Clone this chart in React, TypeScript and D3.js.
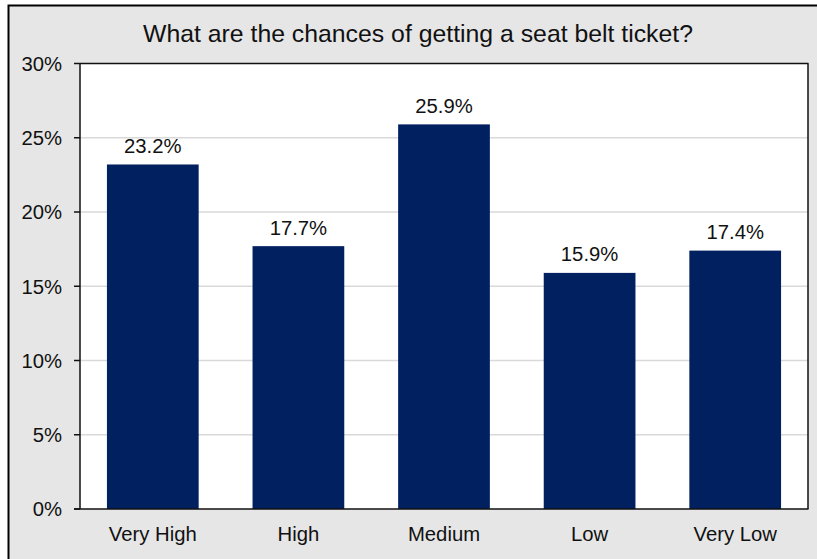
import React from "react";
import * as d3 from "d3";

const categories = ["Very High", "High", "Medium", "Low", "Very Low"];
const values = [23.2, 17.7, 25.9, 15.9, 17.4];
const yTicks = [0, 5, 10, 15, 20, 25, 30];
const title = "What are the chances of getting a seat belt ticket?";

const W = 817;
const H = 559;
const plot = { left: 80, right: 808, top: 63.5, bottom: 509 };
const font = "'Liberation Sans', Arial, sans-serif";

export default function App() {
  const x = d3
    .scaleBand<string>()
    .domain(categories)
    .range([plot.left, plot.right])
    .paddingInner(0.37)
    .paddingOuter(0.185);
  const y = d3.scaleLinear().domain([0, 30]).range([plot.bottom, plot.top]);

  return (
    <svg
      width={W}
      height={H}
      style={{ position: "absolute", left: 0, top: 0, display: "block" }}
      fontFamily={font}
    >
      <rect x={0} y={0} width={W} height={H} fill="#ffffff" />
      <rect x={8.5} y={5.5} width={W + 10} height={H + 10} fill="#e6e6e6" stroke="#000" strokeWidth={2} />
      <text x={418} y={42} textAnchor="middle" fontSize={24.8} fill="#111">
        {title}
      </text>
      <rect
        x={plot.left}
        y={plot.top}
        width={plot.right - plot.left}
        height={plot.bottom - plot.top}
        fill="#ffffff"
      />
      {yTicks
        .filter((t) => t > 0 && t < 30)
        .map((t) => (
          <line
            key={"g" + t}
            x1={plot.left}
            x2={plot.right}
            y1={y(t)}
            y2={y(t)}
            stroke="#d9d9d9"
            strokeWidth={1.5}
          />
        ))}
      {categories.map((c, i) => (
        <g key={c}>
          <rect x={x(c)} y={y(values[i])} width={x.bandwidth()} height={y(0) - y(values[i])} fill="#002060" />
          <text
            x={(x(c) as number) + x.bandwidth() / 2}
            y={y(values[i]) - 11.5}
            textAnchor="middle"
            fontSize={20.3}
            fill="#111"
          >
            {values[i].toFixed(1) + "%"}
          </text>
          <text
            x={(x(c) as number) + x.bandwidth() / 2}
            y={540.5}
            textAnchor="middle"
            fontSize={20.3}
            fill="#111"
          >
            {c}
          </text>
        </g>
      ))}
      <line x1={plot.left} x2={plot.right + 0.5} y1={plot.top} y2={plot.top} stroke="#111" strokeWidth={1.5} />
      <line x1={plot.right} x2={plot.right} y1={plot.top} y2={plot.bottom} stroke="#111" strokeWidth={1.5} />
      <line x1={plot.left} x2={plot.left} y1={plot.top} y2={plot.bottom} stroke="#111" strokeWidth={1.5} />
      <line x1={plot.left - 6} x2={plot.right + 0.5} y1={plot.bottom} y2={plot.bottom} stroke="#111" strokeWidth={1.5} />
      {yTicks.map((t) => (
        <g key={"t" + t}>
          <line x1={plot.left - 6} x2={plot.left} y1={y(t)} y2={y(t)} stroke="#111" strokeWidth={1.5} />
          <text x={62} y={y(t)} dy="0.36em" textAnchor="end" fontSize={20.3} fill="#111">
            {t + "%"}
          </text>
        </g>
      ))}
    </svg>
  );
}
